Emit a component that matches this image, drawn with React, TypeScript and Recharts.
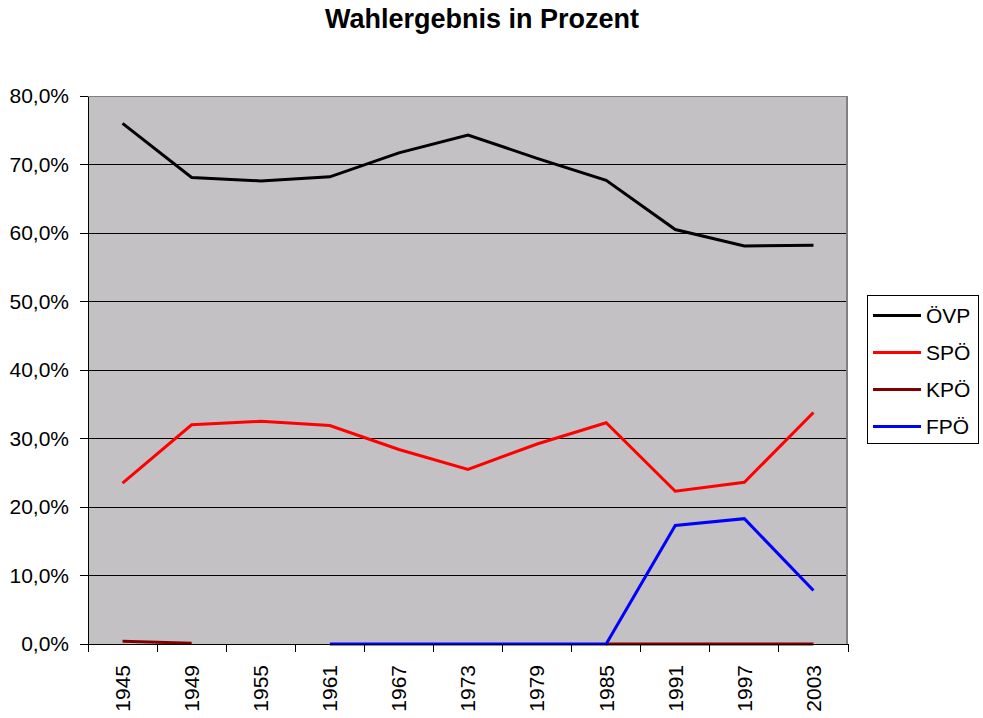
import { LineChart, Line, XAxis, YAxis, CartesianGrid, Legend } from 'recharts';

const years = ['1945', '1949', '1955', '1961', '1967', '1973', '1979', '1985', '1991', '1997', '2003'];
const parties = ['ÖVP', 'SPÖ', 'KPÖ', 'FPÖ'];
const oevp = [76.0, 68.1, 67.6, 68.2, 71.7, 74.3, 70.9, 67.7, 60.5, 58.1, 58.2];
const spoe = [23.5, 32.0, 32.5, 31.9, 28.4, 25.5, 29.2, 32.3, 22.3, 23.6, 33.8];
const kpoe = [0.4, 0.1, null, null, null, null, null, 0, 0, 0, 0];
const fpoe = [null, null, null, 0, 0, 0, 0, 0, 17.3, 18.3, 7.8];
const yTicks = [0, 10, 20, 30, 40, 50, 60, 70, 80];
const gridValues = [10, 20, 30, 40, 50, 60, 70];

const W = 983;
const H = 718;
const FONT = 'Arial, "Liberation Sans", sans-serif';
const PLOT_W = 760;

const data = years.map((year, i) => ({
  year,
  oevp: oevp[i],
  spoe: spoe[i],
  kpoe: kpoe[i],
  fpoe: fpoe[i],
}));

function YearTick(props: any) {
  const { x, y, payload, index } = props;
  const half = payload.offset || PLOT_W / years.length / 2;
  return (
    <g shapeRendering="crispEdges">
      <line x1={x - half} x2={x - half} y1={y} y2={y + 8} stroke="#000" />
      {index === years.length - 1 && (
        <line x1={x + half} x2={x + half} y1={y} y2={y + 8} stroke="#000" />
      )}
      <text
        transform={`translate(${x},${y + 21}) rotate(-90)`}
        textAnchor="end"
        dy="0.35em"
        fontSize={21}
        fill="#000"
      >
        {payload.value}
      </text>
    </g>
  );
}

function LegendBox({ payload }: any) {
  // keep the series order, recharts sorts by name otherwise
  const items = [...(payload || [])].sort(
    (a: any, b: any) => parties.indexOf(a.value) - parties.indexOf(b.value),
  );
  return (
    <div
      style={{
        boxSizing: 'border-box',
        width: 112,
        height: 149,
        border: '1px solid #000',
        background: '#fff',
        paddingTop: 1,
      }}
    >
      {items.map((p: any) => (
        <div key={p.value} style={{ height: 37, display: 'flex', alignItems: 'center' }}>
          <div style={{ marginLeft: 5, width: 48, height: 3, background: p.color }} />
          <span style={{ marginLeft: 5, fontSize: 21, color: '#000', lineHeight: '21px' }}>{p.value}</span>
        </div>
      ))}
    </div>
  );
}

export default function App() {
  return (
    <div
      style={{
        position: 'absolute',
        left: 0,
        top: 0,
        width: W,
        height: H,
        background: '#fff',
        fontFamily: FONT,
      }}
    >
      <div
        style={{
          position: 'absolute',
          left: 0,
          top: 4,
          width: 964,
          textAlign: 'center',
          fontSize: 27,
          fontWeight: 'bold',
          color: '#000',
        }}
      >
        Wahlergebnis in Prozent
      </div>
      <LineChart width={W} height={H} data={data} margin={{ top: 96, right: 135, bottom: 0, left: 0 }}>
        <CartesianGrid
          vertical={false}
          stroke="#000"
          fill="#C3C1C4"
          fillOpacity={1}
          horizontalValues={gridValues}
          shapeRendering="crispEdges"
        />
        <XAxis
          dataKey="year"
          scale="band"
          interval={0}
          height={74}
          tickLine={false}
          tickSize={0}
          tickMargin={0}
          axisLine={{ stroke: '#000', strokeWidth: 1, shapeRendering: 'crispEdges' }}
          tick={<YearTick />}
        />
        <YAxis
          width={88}
          domain={[0, 80]}
          ticks={yTicks}
          interval={0}
          tickSize={8}
          tickMargin={11}
          axisLine={{ stroke: '#000', shapeRendering: 'crispEdges' }}
          tickLine={{ stroke: '#000', shapeRendering: 'crispEdges' }}
          tick={{ fontSize: 21, fill: '#000' }}
          tickFormatter={(v: number) => v.toFixed(1).replace('.', ',') + '%'}
        />
        <Legend
          layout="vertical"
          align="center"
          verticalAlign="middle"
          content={<LegendBox />}
          wrapperStyle={{ left: 867, top: 295, width: 112, height: 149 }}
        />
        <Line name="ÖVP" dataKey="oevp" stroke="#000000" strokeWidth={3} dot={false} isAnimationActive={false} />
        <Line name="SPÖ" dataKey="spoe" stroke="#FF0000" strokeWidth={3} dot={false} isAnimationActive={false} />
        <Line name="KPÖ" dataKey="kpoe" stroke="#800000" strokeWidth={3} dot={false} isAnimationActive={false} />
        <Line name="FPÖ" dataKey="fpoe" stroke="#0000FF" strokeWidth={3} dot={false} isAnimationActive={false} />
      </LineChart>
      <div
        style={{
          position: 'absolute',
          left: 88,
          top: 96,
          width: 760,
          height: 548,
          boxSizing: 'border-box',
          borderTop: '1px solid #808080',
          borderRight: '2px solid #808080',
          pointerEvents: 'none',
        }}
      />
    </div>
  );
}
